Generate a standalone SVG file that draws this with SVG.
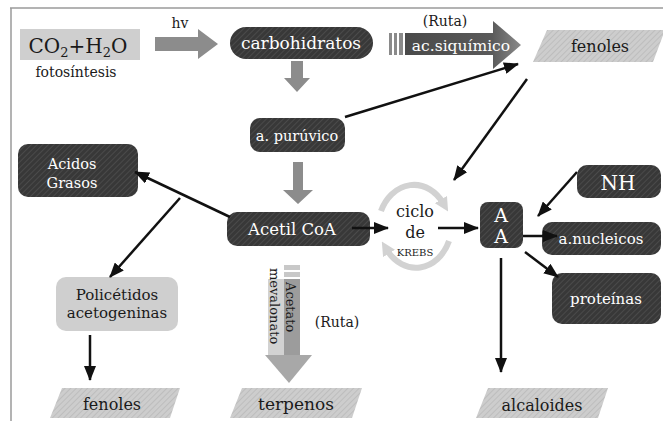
<svg xmlns="http://www.w3.org/2000/svg" width="663" height="421" viewBox="0 0 663 421">
<defs>
<pattern id="hd" width="4" height="4" patternUnits="userSpaceOnUse" patternTransform="rotate(45)">
<rect width="4" height="4" fill="#383838"/><line x1="0" y1="0" x2="0" y2="4" stroke="#505050" stroke-width="1.5"/>
</pattern>
<pattern id="hl" width="4" height="4" patternUnits="userSpaceOnUse" patternTransform="rotate(45)">
<rect width="4" height="4" fill="#cdcdcd"/><line x1="0" y1="0" x2="0" y2="4" stroke="#b8b8b8" stroke-width="1.5"/>
</pattern>
<linearGradient id="sq" x1="0" y1="0" x2="1" y2="0">
<stop offset="0" stop-color="#4a4a4a"/><stop offset="0.75" stop-color="#5a5a5a"/><stop offset="1" stop-color="#8a8a8a"/>
</linearGradient>
<marker id="ah" markerUnits="userSpaceOnUse" markerWidth="15" markerHeight="12" viewBox="0 0 15 12" refX="14" refY="6" orient="auto">
<path d="M0,0 L15,6 L0,12 z" fill="#111"/>
</marker>
<marker id="ga" markerUnits="userSpaceOnUse" markerWidth="14" markerHeight="14" viewBox="0 0 14 14" refX="4" refY="7" orient="auto">
<path d="M0,0 L14,7 L0,14 z" fill="#d2d2d2"/>
</marker>
<style>
text{font-family:"DejaVu Serif","Liberation Serif",serif;text-anchor:middle;fill:#1a1a1a}
.w{fill:#fff}
.dk{fill:url(#hd)}
.lt{fill:url(#hl)}
.con{stroke:#111;stroke-width:2.5;fill:none;marker-end:url(#ah)}
.blk{fill:#8c8c8c}
</style>
</defs>

<g id="frame" stroke="#9a9a9a" stroke-width="1.5">
<line x1="10" y1="8" x2="663" y2="8"/>
<line x1="11" y1="8" x2="11" y2="421"/>
</g>

<g id="co2">
<rect x="20" y="29" width="120" height="31" fill="#cfcfcf"/>
<text x="78" y="53" font-size="20">CO<tspan font-size="13" dy="4">2</tspan><tspan dy="-4">+H</tspan><tspan font-size="13" dy="4">2</tspan><tspan dy="-4">O</tspan></text>
<text x="76" y="77" font-size="14">fotosíntesis</text>
</g>

<g id="hv">
<text x="180" y="28" font-size="14">hv</text>
<polygon class="blk" points="155,37 198,37 198,29 218,44 198,59 198,51 155,51"/>
</g>

<g id="carbohidratos">
<rect x="230" y="27" width="143" height="32" rx="16" class="dk"/>
<text x="301" y="49" font-size="17" class="w">carbohidratos</text>
</g>

<g id="arrow-carb-puruvico">
<polygon class="blk" points="291,61 303,61 303,78 310,78 297,92 284,78 291,78"/>
</g>

<g id="ruta-siquimico">
<text x="445" y="26" font-size="14">(Ruta)</text>
<rect x="389" y="33" width="3" height="22" fill="#8a8a8a"/>
<rect x="394" y="33" width="3" height="22" fill="#8a8a8a"/>
<rect x="399" y="33" width="4" height="22" fill="#8a8a8a"/>
<polygon points="405,33 493,33 493,21 521,45 493,69 493,55 405,55" fill="url(#sq)"/>
<text x="461" y="51" font-size="15.5" class="w">ac.siquímico</text>
</g>

<g id="fenoles-top">
<polygon points="547,30 665,30 653,62 533,62" class="lt"/>
<text x="600" y="52" font-size="16">fenoles</text>
</g>

<g id="puruvico">
<rect x="250" y="118" width="95" height="34" rx="10" class="dk"/>
<text x="297" y="141" font-size="14.5" class="w">a. purúvico</text>
</g>

<g id="arrow-puruvico-acetil">
<polygon class="blk" points="293,162 303,162 303,190 313,190 298,204 283,190 293,190"/>
</g>

<g id="acidos-grasos">
<rect x="18" y="144" width="120" height="53" rx="10" class="dk"/>
<text x="72" y="169" font-size="14.5" class="w">Acidos</text>
<text x="72" y="188" font-size="14.5" class="w">Grasos</text>
</g>

<g id="acetil-coa">
<rect x="227" y="212" width="143" height="34" rx="10" class="dk"/>
<text x="292" y="235" font-size="16.5" class="w">Acetil CoA</text>
</g>

<g id="krebs">
<path d="M381,211 A36,44 0 0 1 443,203" stroke="#d2d2d2" stroke-width="6" fill="none" marker-end="url(#ga)"/>
<path d="M449,241 A36,44 0 0 1 387,250" stroke="#d2d2d2" stroke-width="6" fill="none" marker-end="url(#ga)"/>
<text x="415" y="217" font-size="16">ciclo</text>
<text x="415" y="238" font-size="16">de</text>
<text x="415" y="256" font-size="10">KREBS</text>
</g>

<g id="aa">
<rect x="480" y="202" width="43" height="46" rx="8" class="dk"/>
<text x="501" y="222" font-size="19" class="w">A</text>
<text x="501" y="243" font-size="19" class="w">A</text>
</g>

<g id="nh">
<rect x="577" y="165" width="84" height="33" rx="10" class="dk"/>
<text x="618" y="190" font-size="20" class="w">NH</text>
</g>

<g id="nucleicos">
<rect x="542" y="222" width="119" height="33" rx="10" class="dk"/>
<text x="601" y="244" font-size="15" class="w">a.nucleicos</text>
</g>

<g id="proteinas">
<rect x="552" y="273" width="109" height="51" rx="10" class="dk"/>
<text x="606" y="304" font-size="15" class="w">proteínas</text>
</g>

<g id="policetidos">
<rect x="56" y="277" width="122" height="54" rx="10" fill="#cfcfcf"/>
<text x="117" y="300" font-size="15">Policétidos</text>
<text x="117" y="318" font-size="15">acetogeninas</text>
</g>

<g id="ruta-mevalonato">
<rect x="284" y="265" width="16" height="5" fill="#c8c8c8"/>
<rect x="284" y="272" width="16" height="5" fill="#c8c8c8"/>
<rect x="268" y="279" width="16" height="77" fill="#d2d2d2"/>
<rect x="284" y="279" width="16" height="77" fill="#9c9c9c"/>
<polygon points="265,355 312,355 289,383" fill="#a8a8a8"/>
<text transform="translate(286,282) rotate(90)" x="0" y="0" font-size="13" style="text-anchor:start">Acetato</text>
<text transform="translate(270,268) rotate(90)" x="0" y="0" font-size="13" style="text-anchor:start">mevalonato</text>
<text x="337" y="327" font-size="14">(Ruta)</text>
</g>

<g id="fenoles-bottom">
<polygon points="62,388 180,388 170,418 50,418" class="lt"/>
<text x="112" y="410" font-size="16">fenoles</text>
</g>

<g id="terpenos">
<polygon points="242,388 362,388 352,418 230,418" class="lt"/>
<text x="296" y="410" font-size="17">terpenos</text>
</g>

<g id="alcaloides">
<polygon points="488,388 608,388 598,418 476,418" class="lt"/>
<text x="542" y="411" font-size="16">alcaloides</text>
</g>

<g id="connectors">
<line class="con" x1="345" y1="117" x2="518" y2="64"/>
<line class="con" x1="527" y1="79" x2="454" y2="180"/>
<line class="con" x1="230" y1="217" x2="135" y2="172"/>
<line class="con" x1="180" y1="198" x2="110" y2="277"/>
<line class="con" x1="352" y1="228" x2="388" y2="228"/>
<line class="con" x1="438" y1="228" x2="478" y2="228"/>
<line class="con" x1="577" y1="172" x2="538" y2="216"/>
<line class="con" x1="523" y1="236" x2="557" y2="236"/>
<line class="con" x1="525" y1="252" x2="558" y2="277"/>
<line class="con" x1="501" y1="258" x2="501" y2="372"/>
<line class="con" x1="90" y1="335" x2="90" y2="380"/>
</g>
</svg>
